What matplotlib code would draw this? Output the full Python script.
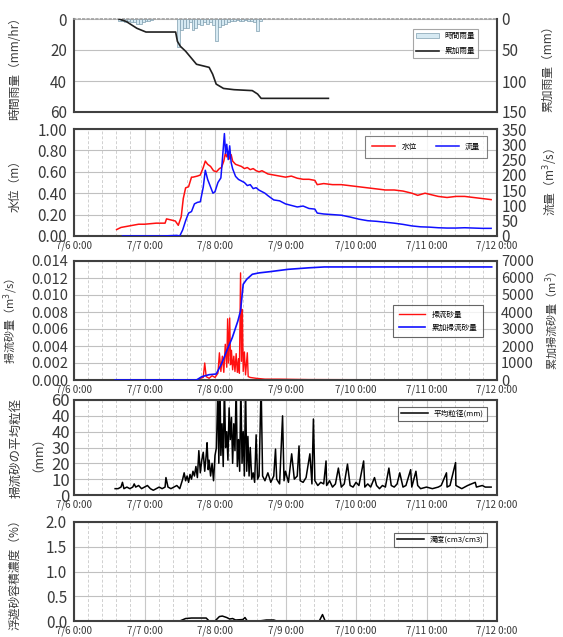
import matplotlib
matplotlib.use("Agg")
import matplotlib.pyplot as plt
import matplotlib.transforms as mtransforms
from matplotlib.ticker import MultipleLocator, FixedLocator, FixedFormatter, FormatStrFormatter
import numpy as np

plt.rcParams['font.family'] = ['Noto Sans CJK JP', 'DejaVu Sans']

# time axis: hours from 7/6 0:00
day_labels = ['7/6 0:00', '7/7 0:00', '7/8 0:00', '7/9 0:00', '7/10 0:00', '7/11 0:00', '7/12 0:00']

# panel 1: rainfall
rain_h = [15, 16, 17, 18, 19, 20, 21, 22, 23, 24, 25, 26,
          35, 36, 37, 38, 39, 40, 41, 42, 43, 44, 45, 46, 47, 48, 49, 50, 51, 52, 53,
          54, 55, 56, 57, 58, 59, 60, 61, 62, 63]
rain = [1, 1, 2, 1, 2, 2, 3, 3, 2, 1, 1, 0.5,
        18, 7, 6, 6, 2, 7, 6, 3, 4, 2, 3, 2, 4, 14, 5, 4, 3, 2, 1,
        1, 0.5, 1, 1, 0.5, 1, 1, 2, 8, 1]
cumrain_t = [15.3, 17.8, 21.4, 24.5, 34.6, 35.2, 36.2, 38, 41.7, 46, 47.2, 48.4, 50.9, 54.5, 60.7, 62.5, 63.7, 86.6]
cumrain = [0, 4, 15, 21, 21, 36, 44, 52, 73, 78, 89, 105, 112, 114, 115.5, 121, 128, 128]

# panel 2: water level / discharge
wl_t = [14.5, 16, 18, 20, 22, 24, 26, 28, 30, 31, 31.5, 33, 34.5, 35.5, 36.5, 37.2, 38, 39, 40, 40.5,
        42, 43, 44, 44.7, 45.5, 46.5, 47.5, 48.5, 49.5, 50.2, 51, 51.5, 52, 52.5, 53, 53.5, 54, 55, 56, 57,
        58, 59, 60, 61, 62, 63, 64, 66, 68, 70, 72, 74, 76, 78, 80, 82, 82.8, 85, 88, 91,
        94, 97, 100, 103, 106, 109, 112, 115, 117, 119.5, 121, 124, 127, 130, 133, 136, 139, 142]
wl = [0.06, 0.08, 0.09, 0.10, 0.11, 0.11, 0.115, 0.12, 0.12, 0.12, 0.16, 0.15, 0.14, 0.10, 0.18, 0.35, 0.45, 0.46, 0.55, 0.55,
      0.56, 0.57, 0.64, 0.70, 0.67, 0.65, 0.61, 0.60, 0.63, 0.64, 0.70, 0.77, 0.74, 0.79, 0.72, 0.76, 0.70, 0.67, 0.66, 0.65,
      0.63, 0.64, 0.62, 0.63, 0.61, 0.60, 0.61, 0.58, 0.57, 0.56, 0.55, 0.56, 0.54, 0.53, 0.53, 0.52, 0.48, 0.49, 0.48, 0.48,
      0.47, 0.46, 0.45, 0.44, 0.43, 0.43, 0.42, 0.40, 0.38, 0.40, 0.39, 0.37, 0.36, 0.37, 0.37, 0.36, 0.35, 0.34]
q_t = [16.5, 30, 35, 36, 37, 38, 39, 40, 41, 42, 43, 44, 44.7, 45.5, 46.5, 47.3, 48, 49, 50, 50.6,
       51.2, 51.6, 52, 52.5, 53, 53.5, 54, 55, 56, 57, 58, 59, 60, 61, 62, 63, 64, 65, 66, 67,
       68, 70, 72, 74, 76, 78, 80, 82, 82.8, 85, 88, 91, 94, 97, 100, 103, 106, 109, 112, 115,
       118, 121, 124, 127, 130, 133, 136, 139, 142]
q = [0, 0, 2, 0, 20, 50, 75, 80, 105, 110, 112, 160, 215, 185, 160, 140, 145, 175, 190, 260,
     335, 270, 300, 250, 295, 240, 220, 195, 185, 180, 175, 165, 168, 155, 158, 150, 145, 140, 132, 125,
     118, 115, 105, 100, 95, 98, 90, 88, 75, 72, 70, 68, 62, 55, 50, 48, 45, 42, 38, 33,
     30, 29, 27, 26, 26, 27, 26, 25, 25]

# panel 3: bedload
bl_t = [14, 42, 43, 44, 44.5, 45, 46, 47, 48, 49, 49.5, 50, 50.5, 51, 51.5, 52, 52.3, 52.6, 53, 53.3,
        53.6, 54, 54.4, 54.8, 55.2, 55.6, 56, 56.3, 56.7, 57, 57.3, 57.6, 58, 58.4, 59, 59.3, 60, 62,
        65, 70, 80, 142]
bl = [0, 0, 0.0002, 0.0003, 0.002, 0.0004, 0.0002, 0.0005, 0.0003, 0.0008, 0.0032, 0.001, 0.0028, 0.0009,
      0.0042, 0.0015, 0.0072, 0.002, 0.0073, 0.0018, 0.0035, 0.0012, 0.0028, 0.001, 0.0031, 0.0009, 0.0025,
      0.0008, 0.0126, 0.0022, 0.0083, 0.001, 0.0033, 0.0006, 0.0032, 0.0004, 0.0003, 0.0002, 0.0001,
      0.0001, 0.00005, 0]
cs_t = [14, 41.7, 43.5, 46, 48.4, 50.2, 52, 53.9, 55.8, 56.7, 57.6, 58.8, 60.7, 63, 66.8, 72.9, 80, 85.2, 90, 142.2]
cs = [0, 0, 195, 313, 352, 940, 1720, 2500, 3480, 4070, 5630, 5925, 6220, 6300, 6375, 6510, 6600, 6650, 6650, 6650]

# panel 4: mean grain size
gs_t = [14, 15, 16, 16.5, 17, 18, 19, 20, 20.5, 21, 22, 23, 24, 25, 26, 27, 28, 29, 30, 31, 31.3, 32, 33, 34, 35, 36,
        37, 37.5, 38, 38.5, 39, 39.5, 40, 40.5, 41, 41.5, 42, 42.5, 43, 43.5, 44, 44.5, 45, 45.3, 45.7, 46, 46.5, 47, 47.5, 48,
        48.5, 49, 49.3, 49.7, 50, 50.4, 50.8, 51.2, 51.6, 52, 52.4, 52.8, 53.2, 53.6, 54, 54.4, 54.8, 55.2, 55.6, 56,
        56.4, 56.8, 57.2, 57.6, 58, 58.4, 58.8, 59.2, 59.6, 60,
        60.5, 61, 61.5, 62, 62.5, 63, 63.7, 64.2, 65, 66, 67, 68, 68.6, 69, 70, 71, 71.5, 72, 73, 74.1,
        75, 76, 76.6, 77, 78, 79, 80.3, 81, 81.5, 82, 83, 84, 85, 85.8, 86, 87, 88, 89, 90,
        91, 92, 93.1, 94, 95, 96, 97, 98.6, 99, 100, 101, 102.3, 103, 104, 105, 106, 107.2, 108, 109, 110,
        110.9, 112, 113, 114.6, 115, 116.4, 117, 118, 120, 122, 124, 125, 126.8, 127, 128, 129.9, 130, 131,
        132, 134, 136.6, 137, 139, 140, 142]
gs = [4, 4, 5, 8, 4, 5, 4, 5, 7, 5, 6, 4, 5, 6, 4, 3, 4, 5, 4, 5, 11, 5, 4, 5, 6, 4,
      10, 14, 9, 12, 8, 13, 10, 15, 12, 18, 11, 28, 14, 22, 27, 15, 25, 33, 16, 22, 12, 20, 9, 25,
      30, 70, 20, 70, 25, 45, 18, 70, 30, 40, 22, 55, 35, 49, 20, 45, 28, 70, 18, 35,
      15, 70, 20, 40, 12, 70, 15, 37, 12, 30,
      10, 14, 8, 38, 10, 12, 70, 12, 9, 14, 8, 12, 29, 10, 7, 50, 9, 15, 8, 26,
      10, 12, 31, 9, 8, 11, 26, 7, 48, 9, 6, 8, 7, 21.5, 6, 9, 5, 7, 17,
      5, 7, 19.5, 6, 5, 8, 6, 21.5, 5, 7, 5, 11, 6, 4, 6, 5, 17, 6, 5, 7,
      14, 5, 6, 16, 5, 15, 6, 4, 5, 4, 5, 6, 14, 5, 6, 20.5, 6, 5,
      4, 6, 8, 5, 6, 5, 5]

# panel 5: suspended sediment concentration
tb_t = [14, 36, 38, 40, 44, 45, 46, 48, 49.5, 50.5, 52, 53, 54, 55, 57.5, 58.2, 59, 63, 65.5, 68, 69, 83.5, 84.6, 85.5, 142]
tb = [0, 0, 0.05, 0.06, 0.06, 0.06, 0, 0, 0.09, 0.1, 0.07, 0.04, 0.05, 0.02, 0.03, 0.07, 0, 0, 0.02, 0.02, 0, 0, 0.13, 0, 0]

TXT = '#3a3a3a'
SP = '#404040'
YL = 8.5   # y label size
TK = 11    # tick label size

fig = plt.figure(figsize=(5.63, 6.37), dpi=100)
L, W = 74 / 563, 423 / 563
def box(top, bot):
    return [L, 1 - bot / 637, W, (bot - top) / 637]

ax1 = fig.add_axes(box(19, 112))
ax2 = fig.add_axes(box(129, 236))
ax3 = fig.add_axes(box(261, 380))
ax4 = fig.add_axes(box(400, 495))
ax5 = fig.add_axes(box(522, 621))


def style(ax, vgrid=True, xlabels=True):
    ax.set_xlim(0, 144)
    ax.xaxis.set_major_locator(MultipleLocator(24))
    ax.xaxis.set_minor_locator(MultipleLocator(4.8))
    if vgrid:
        ax.grid(axis='x', which='major', color='#c8c8c8', lw=0.8)
        ax.grid(axis='x', which='minor', color='#d0d0d0', lw=0.7, ls=(0, (3, 2)))
    ax.grid(axis='y', which='major', color='#c0c0c0', lw=0.8)
    ax.set_axisbelow(True)
    for s in ax.spines.values():
        s.set_color(SP)
        s.set_linewidth(1.5)
    ax.tick_params(which='both', length=0, colors=TXT, labelsize=TK, pad=5)
    if xlabels:
        ax.set_xticks(range(0, 145, 24))
        ax.set_xticklabels(day_labels, fontsize=7, color=TXT)
        for i, lab in enumerate(ax.get_xticklabels()):
            dx = (16 - i * 4.3) * 0.72 / 72
            lab.set_transform(lab.get_transform() + mtransforms.ScaledTranslation(dx, 0, fig.dpi_scale_trans))
        ax.tick_params(axis='x', pad=3.5)
    else:
        ax.set_xticklabels([])


def style_right(ax):
    ax.tick_params(length=0, colors=TXT, labelsize=TK, pad=3)
    for s in ax.spines.values():
        s.set_visible(False)


def legend(ax, handles, labels, **kw):
    kw.setdefault('handlelength', 3.5)
    leg = ax.legend(handles, labels, loc='upper right', fontsize=5.5, frameon=True, fancybox=False, **kw)
    leg.get_frame().set_linewidth(0.8)
    return leg


# ---- panel 1
style(ax1, vgrid=False, xlabels=False)
ax1.bar(rain_h, rain, width=1.0, align='edge', color='#d6e9f2', edgecolor='#7f9fb0', lw=0.5, label='時間雨量', zorder=2)
ax1.set_ylim(60, 0)
ax1.set_yticks([0, 20, 40, 60])
ax1.spines['top'].set_color('#a0a0a0')
ax1.spines['top'].set_linestyle(':')
ax1.spines['top'].set_linewidth(1.2)
ax1r = ax1.twinx()
ax1r.plot(cumrain_t, cumrain, color='#202020', lw=1.2, label='累加雨量')
ax1r.set_ylim(150, 0)
ax1r.set_yticks([0, 50, 100, 150])
style_right(ax1r)
ax1.set_ylabel('時間雨量（mm/hr）', fontsize=YL, color=TXT)
ax1.yaxis.set_label_coords(-0.125, 0.5)
ax1r.set_ylabel('累加雨量（mm）', fontsize=YL, color=TXT)
ax1r.yaxis.set_label_coords(1.105, 0.5)
h1, l1 = ax1.get_legend_handles_labels()
h2, l2 = ax1r.get_legend_handles_labels()
legend(ax1r, h1 + h2, l1 + l2, bbox_to_anchor=(0.965, 0.93), edgecolor='#909090', labelspacing=0.9,
       handlelength=3)

# ---- panel 2
style(ax2)
ax2.plot(wl_t, wl, color='#ff1010', lw=1.1, label='水位')
ax2.set_ylim(0, 1.0)
ax2.set_yticks(np.arange(0, 1.01, 0.2))
ax2.yaxis.set_major_formatter(FormatStrFormatter('%.2f'))
ax2r = ax2.twinx()
ax2r.plot(q_t, q, color='#1010ff', lw=1.1, label='流量')
ax2r.set_ylim(0, 350)
ax2r.set_yticks(range(0, 351, 50))
style_right(ax2r)
ax2.set_ylabel('水位（m）', fontsize=YL, color=TXT)
ax2.yaxis.set_label_coords(-0.125, 0.5)
ax2r.set_ylabel('流量（m$^3$/s）', fontsize=YL, color=TXT)
ax2r.yaxis.set_label_coords(1.105, 0.5)
h1, l1 = ax2.get_legend_handles_labels()
h2, l2 = ax2r.get_legend_handles_labels()
legend(ax2r, h1 + h2, l1 + l2, bbox_to_anchor=(0.985, 0.97), ncol=2, edgecolor='#606060',
       handlelength=3, columnspacing=2.5, borderpad=0.9)

# ---- panel 3
style(ax3)
ax3.tick_params(axis='y', labelsize=10.5, pad=4)
ax3.plot(bl_t, bl, color='#ff1010', lw=1.0, label='掃流砂量')
ax3.set_ylim(0, 0.014)
ax3.set_yticks(np.arange(0, 0.0141, 0.002))
ax3.yaxis.set_major_formatter(FormatStrFormatter('%.3f'))
ax3r = ax3.twinx()
ax3r.plot(cs_t, cs, color='#1010ff', lw=1.2, label='累加掃流砂量')
ax3r.set_ylim(0, 7000)
ax3r.set_yticks(range(0, 7001, 1000))
style_right(ax3r)
ax3r.tick_params(labelsize=10.5)
ax3.set_ylabel('掃流砂量（m$^3$/s）', fontsize=8, color=TXT)
ax3.yaxis.set_label_coords(-0.128, 0.5)
ax3r.set_ylabel('累加掃流砂量（m$^3$）', fontsize=8, color=TXT)
ax3r.yaxis.set_label_coords(1.11, 0.5)
h1, l1 = ax3.get_legend_handles_labels()
h2, l2 = ax3r.get_legend_handles_labels()
legend(ax3r, h1 + h2, l1 + l2, bbox_to_anchor=(0.975, 0.66), edgecolor='#404040', labelspacing=0.7,
       borderpad=0.7)

# ---- panel 4
style(ax4)
ax4.plot(gs_t, gs, color='black', lw=1.1, label='平均粒径(mm)')
ax4.set_ylim(0, 60)
ax4.yaxis.set_major_locator(FixedLocator([0, 10, 20, 30, 40, 50, 60]))
ax4.yaxis.set_major_formatter(FixedFormatter(['0', '10', '20', '30', '40', '40', '60']))
ax4.tick_params(axis='y', labelsize=12, pad=3)
ax4.set_ylabel('掃流砂の平均粒径\n（mm）', fontsize=9, color=TXT, linespacing=1.3)
ax4.yaxis.set_label_coords(-0.085, 0.5)
h, l = ax4.get_legend_handles_labels()
legend(ax4, h, l, bbox_to_anchor=(0.985, 0.97), edgecolor='#404040')

# ---- panel 5
style(ax5)
ax5.plot(tb_t, tb, color='black', lw=1.1, label='濁度(cm3/cm3)')
ax5.set_ylim(0, 2.0)
ax5.set_yticks(np.arange(0, 2.01, 0.5))
ax5.yaxis.set_major_formatter(FormatStrFormatter('%.1f'))
ax5.set_ylabel('浮遊砂容積濃度（%）', fontsize=YL, color=TXT)
ax5.yaxis.set_label_coords(-0.125, 0.5)
h, l = ax5.get_legend_handles_labels()
legend(ax5, h, l, bbox_to_anchor=(0.985, 0.93), edgecolor='#404040')

fig.savefig('out.png', dpi=100)
